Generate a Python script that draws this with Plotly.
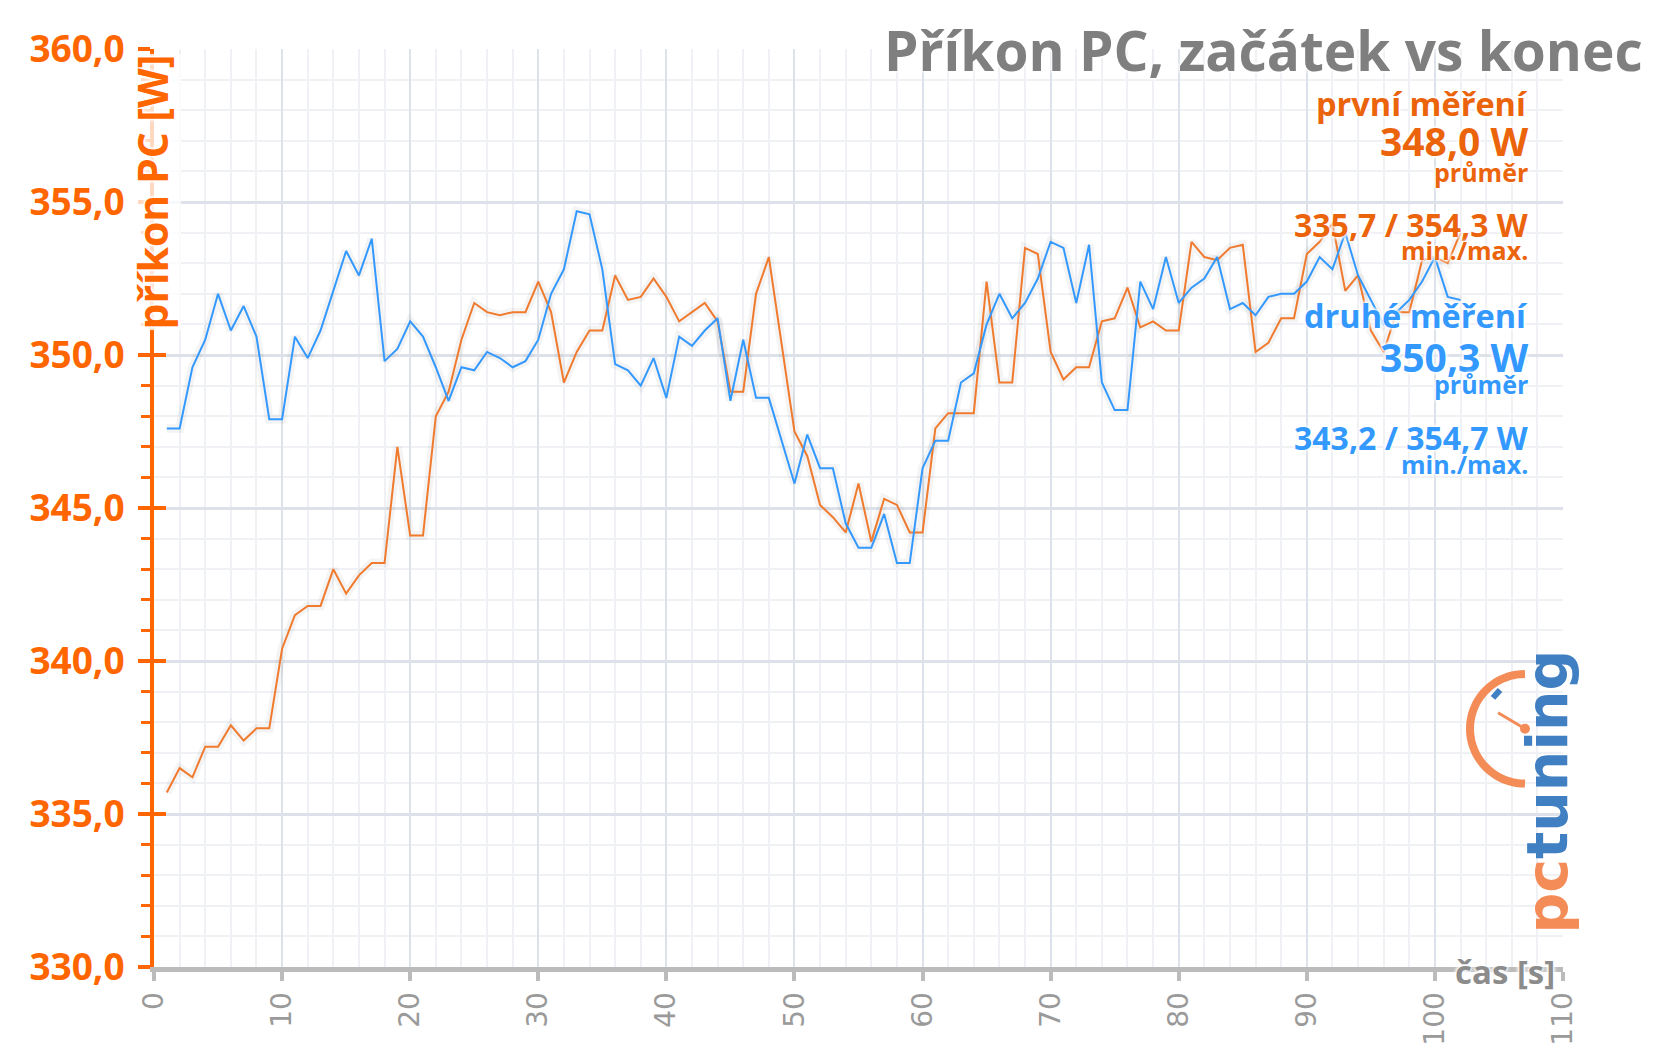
import math
import plotly.graph_objects as go

# ---------------- data ----------------
seconds = list(range(1, 103))

prvni_mereni = [
    335.7, 336.5, 336.2, 337.2, 337.2, 337.9, 337.4, 337.8, 337.8, 340.4,
    341.5, 341.8, 341.8, 343.0, 342.2, 342.8, 343.2, 343.2, 347.0, 344.1,
    344.1, 348.0, 348.8, 350.5, 351.7, 351.4, 351.3, 351.4, 351.4, 352.4,
    351.4, 349.1, 350.1, 350.8, 350.8, 352.6, 351.8, 351.9, 352.5, 351.9,
    351.1, 351.4, 351.7, 351.1, 348.8, 348.8, 352.0, 353.2, 350.3, 347.5,
    346.7, 345.1, 344.7, 344.2, 345.8, 343.9, 345.3, 345.1, 344.2, 344.2,
    347.6, 348.1, 348.1, 348.1, 352.4, 349.1, 349.1, 353.5, 353.3, 350.1,
    349.2, 349.6, 349.6, 351.1, 351.2, 352.2, 350.9, 351.1, 350.8, 350.8,
    353.7, 353.2, 353.1, 353.5, 353.6, 350.1, 350.4, 351.2, 351.2, 353.3,
    353.7, 354.3, 352.1, 352.6, 350.8, 350.1, 351.4, 351.4, 353.1, 353.2,
    353.0, 354.0,
]

druhe_mereni = [
    347.6, 347.6, 349.6, 350.5, 352.0, 350.8, 351.6, 350.6, 347.9, 347.9,
    350.6, 349.9, 350.8, 352.1, 353.4, 352.6, 353.8, 349.8, 350.2, 351.1,
    350.6, 349.6, 348.5, 349.6, 349.5, 350.1, 349.9, 349.6, 349.8, 350.5,
    352.0, 352.8, 354.7, 354.6, 352.8, 349.7, 349.5, 349.0, 349.9, 348.6,
    350.6, 350.3, 350.8, 351.2, 348.5, 350.5, 348.6, 348.6, 347.2, 345.8,
    347.4, 346.3, 346.3, 344.5, 343.7, 343.7, 344.8, 343.2, 343.2, 346.3,
    347.2, 347.2, 349.1, 349.4, 351.0, 352.0, 351.2, 351.7, 352.5, 353.7,
    353.5, 351.7, 353.6, 349.1, 348.2, 348.2, 352.4, 351.5, 353.2, 351.7,
    352.2, 352.5, 353.2, 351.5, 351.7, 351.3, 351.9, 352.0, 352.0, 352.4,
    353.2, 352.8, 354.0, 352.6, 351.8, 351.0, 351.4, 351.8, 352.4, 353.2,
    351.9, 351.8,
]

x_tick_vals = list(range(0, 111, 10))
x_tick_text = [str(v) for v in x_tick_vals]
y_tick_vals = [330, 335, 340, 345, 350, 355, 360]
y_tick_text = ["330,0", "335,0", "340,0", "345,0", "350,0", "355,0", "360,0"]

title_text = "Příkon PC, začátek vs konec"
y_title = "příkon PC [W]"
x_title = "čas [s]"
legend_blocks = [
    ("první měření", "348,0 W", "průměr", "335,7 / 354,3 W", "min./max."),
    ("druhé měření", "350,3 W", "průměr", "343,2 / 354,7 W", "min./max."),
]

# ---------------- style ----------------
W, H = 1665, 1058
L, R, T, B = 154, 102, 49, 88
PW, PH = W - L - R, H - T - B

ORANGE_AXIS = "#ff6600"
ORANGE_LINE = "#f07a2e"
ORANGE_TEXT = "#eb640c"
BLUE_LINE = "#3399ff"
BLUE_TEXT = "#3399ff"
GRID_MAJOR = "#dde2ea"
GRID_MINOR = "#eff1f5"
FONT = "Open Sans"
HALO = "0px 0px 3px #ffffff, 0px 0px 3px #ffffff, 0px 0px 4px #ffffff, 0px 0px 5px #ffffff"
HALO_STRONG = ("0px 0px 2px #ffffff, 0px 0px 2px #ffffff, 0px 0px 3px #ffffff, "
               "0px 0px 3px #ffffff, 0px 0px 4px #ffffff, 0px 0px 5px #ffffff")


def px(xp):
    return (xp - L) / PW


def py(yp):
    return (H - B - yp) / PH


fig = go.Figure()

# soft shadows under the lines
for ys in (prvni_mereni, druhe_mereni):
    fig.add_trace(go.Scatter(x=seconds, y=ys, mode="lines",
                             line=dict(color="rgba(0,0,0,0.045)", width=9),
                             hoverinfo="skip", showlegend=False))

fig.add_trace(go.Scatter(x=seconds, y=prvni_mereni, mode="lines", name="první měření",
                         line=dict(color=ORANGE_LINE, width=2), showlegend=False))
fig.add_trace(go.Scatter(x=seconds, y=druhe_mereni, mode="lines", name="druhé měření",
                         line=dict(color=BLUE_LINE, width=2), showlegend=False))
# invisible trace to bring up the overlay axis (inner halves of the major ticks)
fig.add_trace(go.Scatter(x=[seconds[0]], y=[druhe_mereni[0]], mode="lines",
                         line=dict(width=0), opacity=0, yaxis="y2",
                         hoverinfo="skip", showlegend=False))

fig.update_layout(
    width=W, height=H,
    margin=dict(l=L, r=R, t=T, b=B),
    paper_bgcolor="white", plot_bgcolor="white",
    showlegend=False,
    xaxis=dict(
        range=[0, 110], tickmode="array", tickvals=x_tick_vals, ticktext=x_tick_text,
        tickangle=-90, tickfont=dict(family="DejaVu Sans", size=28, color="#9a9a9a"),
        ticks="outside", ticklen=9, tickwidth=4, tickcolor="#bbbbbb",
        showline=True, linecolor="#bbbbbb", linewidth=5,
        showgrid=True, gridcolor=GRID_MAJOR, gridwidth=2,
        minor=dict(dtick=2, showgrid=True, gridcolor=GRID_MINOR, gridwidth=2, ticks=""),
        zeroline=False, fixedrange=True,
    ),
    yaxis=dict(
        range=[330, 360], tickmode="array", tickvals=y_tick_vals, ticktext=y_tick_text,
        tickfont=dict(family=FONT, size=37, color=ORANGE_AXIS, weight="bold"),
        ticks="outside", ticklen=12, tickwidth=4, tickcolor=ORANGE_AXIS,
        ticklabelstandoff=6,
        showline=True, linecolor=ORANGE_AXIS, linewidth=4,
        showgrid=True, gridcolor=GRID_MAJOR, gridwidth=3,
        minor=dict(dtick=1, showgrid=True, gridcolor=GRID_MINOR, gridwidth=2,
                   ticks="outside", ticklen=9, tickwidth=3, tickcolor=ORANGE_AXIS),
        zeroline=False, fixedrange=True,
    ),
    yaxis2=dict(
        range=[330, 360], overlaying="y", side="left", anchor="x",
        tickmode="array", tickvals=y_tick_vals, showticklabels=False,
        ticks="inside", ticklen=12, tickwidth=4, tickcolor=ORANGE_AXIS,
        showgrid=False, showline=False, zeroline=False, fixedrange=True,
    ),
)

ann = []
ann.append(dict(text=title_text, xref="paper", yref="paper", x=px(1645), y=py(50),
                xanchor="right", yanchor="middle", showarrow=False,
                font=dict(family=FONT, size=55, color="#7f7f7f", weight="bold", shadow=HALO)))
ann.append(dict(text=y_title, xref="paper", yref="paper", x=px(152), y=py(193),
                xanchor="center", yanchor="middle", textangle=-90, showarrow=False,
                bgcolor="rgba(255,255,255,0.75)", borderpad=0,
                font=dict(family=FONT, size=41, color=ORANGE_AXIS, weight="bold",
                          shadow=HALO_STRONG)))
ann.append(dict(text=x_title, xref="paper", yref="paper", x=px(1557), y=py(975),
                xanchor="right", yanchor="middle", showarrow=False,
                font=dict(family=FONT, size=33, color="#8c8c8c", weight="bold", shadow=HALO)))

block_y = [(104, 141, 172, 225, 251), (316, 358, 385, 439, 465)]
sizes = (32.5, 39, 25, 32, 25)
colors = (ORANGE_TEXT, BLUE_TEXT)
for blk, ys, col in zip(legend_blocks, block_y, colors):
    for txt, yy, sz in zip(blk, ys, sizes):
        ann.append(dict(text=txt, xref="paper", yref="paper", x=px(1530), y=py(yy),
                        xanchor="right", yanchor="middle", showarrow=False,
                        font=dict(family=FONT, size=sz, color=col, weight="bold", shadow=HALO)))

# pctuning logo (rotated text + gauge)
LOGO_OR = "#f48c58"
LOGO_BL = "#3f7fc2"
logo_text = (f"<span style='color:{LOGO_OR}'>pc</span>"
             f"<span style='color:{LOGO_BL}'>tuning</span>")
ann.append(dict(text=logo_text, xref="paper", yref="paper", x=px(1547), y=py(794),
                xanchor="center", yanchor="middle", textangle=-90, showarrow=False,
                font=dict(family="DejaVu Sans", size=57, color=LOGO_BL, weight="bold")))
fig.update_layout(annotations=ann)

cx, cy, r = 1525, 731, 55
pts = []
for k in range(0, 41):
    a = math.radians(90 + 180 * k / 40)
    pts.append((px(cx + r * math.cos(a)), py(cy - r * math.sin(a))))
path = "M " + " L ".join(f"{a:.5f},{b:.5f}" for a, b in pts)
shapes = [
    dict(type="path", xref="paper", yref="paper", path=path,
         line=dict(color=LOGO_OR, width=8)),
    dict(type="line", xref="paper", yref="paper",
         x0=px(1493), y0=py(700), x1=px(1500), y1=py(692),
         line=dict(color=LOGO_BL, width=6)),
    dict(type="line", xref="paper", yref="paper",
         x0=px(1498), y0=py(715), x1=px(cx), y1=py(cy),
         line=dict(color=LOGO_OR, width=3)),
    dict(type="circle", xref="paper", yref="paper",
         x0=px(cx - 5), y0=py(cy + 5), x1=px(cx + 5), y1=py(cy - 5),
         fillcolor=LOGO_OR, line=dict(width=0)),
]
fig.update_layout(shapes=shapes)

fig.write_html("out.html", config={"displayModeBar": False})
